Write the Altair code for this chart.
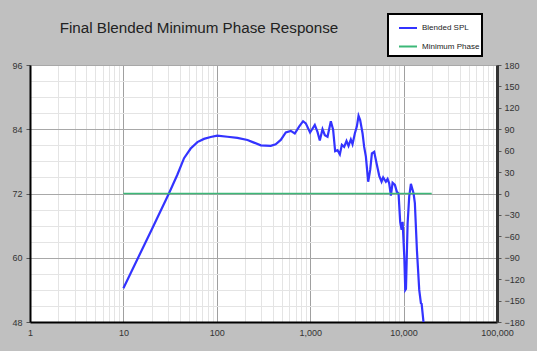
import altair as alt
import pandas as pd

# ---- data ----
series_names = ["Blended SPL", "Minimum Phase"]

freq_spl = [10, 20, 30.7, 37.8, 44.6, 52.5, 62, 72.9, 86, 101, 130, 166, 213, 250, 296,
            378, 427, 484, 548, 620, 684, 761, 839, 897, 997, 1120, 1197, 1267, 1355,
            1435, 1533, 1663, 1760, 1849, 1962, 2077, 2182, 2309, 2448, 2572, 2723,
            2839, 3005, 3157, 3293, 3427, 3637, 3783, 3946, 4177, 4389, 4577, 4844,
            5140, 5485, 5809, 6046, 6457, 6740, 7010, 7310, 7620, 8070, 8470, 8830,
            9190, 9520, 9760, 10170, 10420, 10600, 11040, 11480, 11970, 12790, 13200,
            13890, 14700, 15320, 15600, 16370]
spl_db = [54.3, 65.2, 72.0, 75.5, 78.6, 80.4, 81.6, 82.2, 82.55, 82.8, 82.6, 82.4, 82.0, 81.5, 81.0,
          80.9, 81.2, 82.0, 83.4, 83.7, 83.2, 84.5, 85.5, 85.1, 83.4, 84.8, 83.5, 81.9, 84.0,
          82.9, 82.6, 85.5, 83.9, 79.9, 80.1, 79.3, 81.1, 80.7, 81.8, 80.9, 82.1,
          81.2, 83.2, 84.5, 86.5, 85.7, 83.2, 80.7, 78.9, 74.2, 76.4, 79.5, 79.8,
          77.6, 75.3, 74.2, 75.0, 74.2, 74.7, 73.9, 71.6, 74.0, 73.6, 72.3, 72.0,
          66.7, 65.2, 66.7, 60.2, 54.0, 54.2, 66.4, 71.4, 73.8, 72.0, 70.2,
          61.4, 54.0, 51.5, 51.4, 47.8]

phase_freq = [10, 20000]
phase_deg = [0, 0]

title_text = ["Final Blended Minimum Phase Response"]

x_major = [1, 10, 100, 1000, 10000, 100000]
x_ticks = [m * d for d in [1, 10, 100, 1000, 10000] for m in range(1, 10)] + [100000]
y_ticks = list(range(48, 97, 3))
y_major = [48, 60, 72, 84, 96]
phase_ticks = list(range(-180, 181, 30))

FONT = "Liberation Sans"

spl_df = pd.DataFrame({"freq": freq_spl, "value": spl_db, "series": series_names[0]})
phase_df = pd.DataFrame({"freq": phase_freq, "value": phase_deg, "series": series_names[1]})

x_major_str = "[" + ",".join(str(v) for v in x_major) + "]"
y_major_str = "[" + ",".join(str(v) for v in y_major) + "]"

color = alt.Color(
    "series:N",
    scale=alt.Scale(domain=series_names, range=["#3333ff", "#3cb878"]),
    legend=alt.Legend(
        title=None, orient="none", legendX=368, legendY=-47,
        symbolType="stroke", symbolSize=324, symbolStrokeWidth=2,
        labelFont=FONT, labelFontSize=8, labelColor="#222",
        labelOffset=4, rowPadding=4.5, padding=0,
    ),
)

x_enc = alt.X(
    "freq:Q",
    scale=alt.Scale(type="log", domain=[1, 100000], nice=False),
    axis=alt.Axis(
        values=x_ticks, title=None, ticks=False,
        labelExpr=f"indexof({x_major_str}, datum.value) >= 0 ? format(datum.value, ',') : ''",
        labelFont=FONT, labelFontSize=9, labelColor="#333", labelPadding=6,
        labelFlush=False, labelOverlap=False,
        domainColor="#000", domainWidth=2,
        grid=True,
        gridColor={"condition": {"test": f"indexof({x_major_str}, datum.value) >= 0", "value": "#a0a0a0"},
                   "value": "#e4e4e4"},
    ),
)

spl_line = alt.Chart(spl_df).mark_line(strokeWidth=2.2, clip=True).encode(
    x=x_enc,
    y=alt.Y(
        "value:Q",
        scale=alt.Scale(domain=[48, 96], nice=False, zero=False),
        axis=alt.Axis(
            values=y_ticks, title=None, orient="left",
            labelExpr=f"indexof({y_major_str}, datum.value) >= 0 ? datum.value : ''",
            labelFont=FONT, labelFontSize=9, labelColor="#333", labelPadding=4,
            labelOverlap=False,
            tickSize=4,
            tickColor={"condition": {"test": f"indexof({y_major_str}, datum.value) >= 0", "value": "#555"},
                       "value": "transparent"},
            domainColor="#000", domainWidth=2,
            grid=True,
            gridColor={"condition": {"test": f"indexof({y_major_str}, datum.value) >= 0", "value": "#a8a8a8"},
                       "value": "#e4e4e4"},
        ),
    ),
    color=color,
)

phase_line = alt.Chart(phase_df).mark_line(strokeWidth=1.6).encode(
    x=alt.X("freq:Q", scale=alt.Scale(type="log", domain=[1, 100000], nice=False)),
    y=alt.Y(
        "value:Q",
        scale=alt.Scale(domain=[-180, 180], nice=False, zero=False),
        axis=alt.Axis(
            values=phase_ticks, title=None, orient="right", grid=False,
            labelFont=FONT, labelFontSize=9, labelColor="#333", labelPadding=3,
            labelOverlap=False, tickSize=4, tickColor="#555",
            domainColor="#333", domainWidth=3,
        ),
    ),
    color=color,
)

title_layer = alt.Chart(pd.DataFrame({"t": title_text})).mark_text(
    font=FONT, fontSize=15.2, color="#222", align="center", baseline="alphabetic"
).encode(text="t:N", x=alt.value(169), y=alt.value(-32))

legend_box = alt.Chart(pd.DataFrame({"t": title_text})).mark_rect(
    fill="white", stroke="black", strokeWidth=2
).encode(x=alt.value(358), x2=alt.value(452), y=alt.value(-51), y2=alt.value(-9))

chart = alt.layer(legend_box, spl_line, phase_line, title_layer).resolve_scale(
    y="independent"
).properties(
    width=467, height=257,
    autosize=alt.AutoSizeParams(type="none"),
    padding={"left": 30, "top": 65, "right": 40, "bottom": 29},
    background="#c0c0c0",
).configure_view(fill="white", stroke="#000", strokeWidth=1)

chart.save("out.html", embed_options={"renderer": "svg", "actions": False})
